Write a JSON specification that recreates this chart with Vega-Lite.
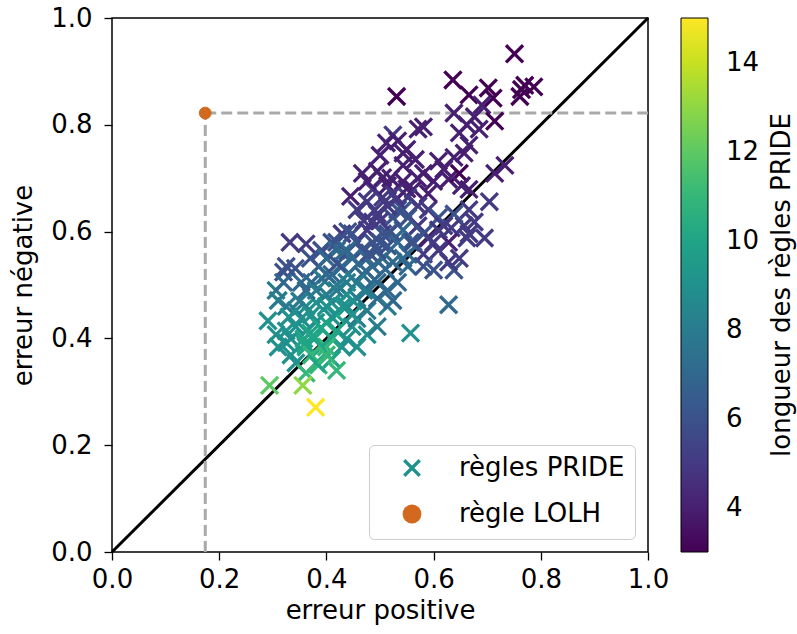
{
  "$schema": "https://vega.github.io/schema/vega-lite/v6.json",
  "width": 536,
  "height": 534,
  "autosize": {"type": "none"},
  "padding": {"left": 112, "top": 18, "right": 149, "bottom": 82},
  "config": {
    "font": "DejaVu Sans",
    "view": {"stroke": "black", "strokeWidth": 1.5},
    "axis": {
      "grid": false, "domain": false, "tickColor": "black", "tickSize": 8, "tickWidth": 1.3,
      "labelFontSize": 26, "titleFontSize": 26, "labelColor": "black", "titleColor": "black", "labelFlush": false,
      "titleFontWeight": "normal", "labelFont": "DejaVu Sans", "titleFont": "DejaVu Sans"
    },
    "legend": {"labelFont": "DejaVu Sans", "titleFont": "DejaVu Sans"}
  },
  "layer": [
    {
      "data": {"values": [{"x": 0, "y": 0}, {"x": 1, "y": 1}]},
      "mark": {"type": "line", "color": "black", "strokeWidth": 3},
      "encoding": {
        "x": {"field": "x", "type": "quantitative", "scale": {"domain": [0, 1], "nice": false},
              "axis": {"values": [0, 0.2, 0.4, 0.6, 0.8, 1.0], "format": ".1f", "title": "erreur positive", "labelPadding": 6, "titlePadding": 5, "labelFontSize": 26, "titleFontSize": 26, "labelFlush": false}},
        "y": {"field": "y", "type": "quantitative", "scale": {"domain": [0, 1], "nice": false},
              "axis": {"values": [0, 0.2, 0.4, 0.6, 0.8, 1.0], "format": ".1f", "title": "erreur négative", "labelPadding": 12, "titlePadding": 14, "labelFontSize": 26, "titleFontSize": 26, "labelFlush": false}}
      }
    },
    {
      "data": {"values": [{"x": 0.174, "y": 0, "x2": 0.174, "y2": 0.822}, {"x": 0.174, "y": 0.822, "x2": 1, "y2": 0.822}]},
      "mark": {"type": "rule", "color": "#a9a9a9", "strokeWidth": 3, "strokeDash": [11, 5]},
      "encoding": {
        "x": {"field": "x", "type": "quantitative"},
        "y": {"field": "y", "type": "quantitative"},
        "x2": {"field": "x2"},
        "y2": {"field": "y2"}
      }
    },
    {
      "data": {"values": [
        {"x":0.751,"y":0.933,"l":3},{"x":0.531,"y":0.853,"l":3},{"x":0.636,"y":0.884,"l":3},{"x":0.666,"y":0.856,"l":3},
        {"x":0.702,"y":0.869,"l":3},{"x":0.711,"y":0.850,"l":3},{"x":0.761,"y":0.853,"l":3},{"x":0.770,"y":0.874,"l":3},
        {"x":0.787,"y":0.871,"l":3},{"x":0.764,"y":0.866,"l":3},{"x":0.690,"y":0.837,"l":4},{"x":0.714,"y":0.807,"l":3},
        {"x":0.638,"y":0.822,"l":4},{"x":0.676,"y":0.815,"l":4},{"x":0.662,"y":0.800,"l":4},{"x":0.648,"y":0.785,"l":4},
        {"x":0.685,"y":0.792,"l":4},{"x":0.666,"y":0.762,"l":4},{"x":0.571,"y":0.792,"l":4},{"x":0.581,"y":0.796,"l":4},
        {"x":0.524,"y":0.781,"l":5},{"x":0.533,"y":0.770,"l":4},{"x":0.512,"y":0.766,"l":4},{"x":0.550,"y":0.754,"l":4},
        {"x":0.500,"y":0.743,"l":4},{"x":0.495,"y":0.713,"l":4},{"x":0.566,"y":0.735,"l":4},{"x":0.543,"y":0.724,"l":4},
        {"x":0.581,"y":0.709,"l":4},{"x":0.609,"y":0.732,"l":4},{"x":0.619,"y":0.717,"l":4},{"x":0.628,"y":0.698,"l":4},
        {"x":0.648,"y":0.709,"l":3},{"x":0.652,"y":0.686,"l":4},{"x":0.638,"y":0.739,"l":4},{"x":0.657,"y":0.747,"l":4},
        {"x":0.714,"y":0.709,"l":4},{"x":0.733,"y":0.724,"l":4},{"x":0.704,"y":0.656,"l":5},{"x":0.666,"y":0.679,"l":4},
        {"x":0.666,"y":0.641,"l":5},{"x":0.666,"y":0.596,"l":5},{"x":0.657,"y":0.611,"l":5},{"x":0.638,"y":0.633,"l":6},
        {"x":0.633,"y":0.607,"l":5},{"x":0.628,"y":0.580,"l":4},{"x":0.638,"y":0.528,"l":6},{"x":0.628,"y":0.463,"l":7},
        {"x":0.600,"y":0.528,"l":6},{"x":0.609,"y":0.565,"l":5},{"x":0.590,"y":0.588,"l":4},{"x":0.581,"y":0.558,"l":5},
        {"x":0.557,"y":0.410,"l":9},{"x":0.533,"y":0.505,"l":7},{"x":0.552,"y":0.535,"l":7},{"x":0.557,"y":0.580,"l":6},
        {"x":0.543,"y":0.603,"l":7},{"x":0.524,"y":0.626,"l":6},{"x":0.533,"y":0.641,"l":6},{"x":0.514,"y":0.648,"l":5},
        {"x":0.505,"y":0.664,"l":5},{"x":0.486,"y":0.679,"l":5},{"x":0.476,"y":0.656,"l":5},{"x":0.495,"y":0.633,"l":5},
        {"x":0.486,"y":0.618,"l":5},{"x":0.445,"y":0.666,"l":4},{"x":0.457,"y":0.641,"l":5},{"x":0.429,"y":0.596,"l":5},
        {"x":0.410,"y":0.580,"l":6},{"x":0.391,"y":0.565,"l":6},{"x":0.362,"y":0.577,"l":5},{"x":0.332,"y":0.580,"l":5},
        {"x":0.370,"y":0.550,"l":6},{"x":0.386,"y":0.535,"l":6},{"x":0.320,"y":0.524,"l":6},{"x":0.342,"y":0.531,"l":6},
        {"x":0.306,"y":0.490,"l":8},{"x":0.310,"y":0.471,"l":8},{"x":0.325,"y":0.460,"l":8},{"x":0.291,"y":0.433,"l":9},
        {"x":0.306,"y":0.407,"l":9},{"x":0.310,"y":0.384,"l":9},{"x":0.334,"y":0.369,"l":9},{"x":0.343,"y":0.354,"l":9},
        {"x":0.400,"y":0.429,"l":10},{"x":0.419,"y":0.414,"l":10},{"x":0.438,"y":0.399,"l":9},{"x":0.429,"y":0.384,"l":9},
        {"x":0.448,"y":0.422,"l":9},{"x":0.457,"y":0.437,"l":8},{"x":0.476,"y":0.452,"l":8},{"x":0.495,"y":0.475,"l":7},
        {"x":0.514,"y":0.460,"l":8},{"x":0.524,"y":0.471,"l":7},{"x":0.514,"y":0.490,"l":7},{"x":0.495,"y":0.505,"l":7},
        {"x":0.476,"y":0.490,"l":8},{"x":0.457,"y":0.475,"l":8},{"x":0.438,"y":0.460,"l":9},{"x":0.419,"y":0.444,"l":10},
        {"x":0.410,"y":0.467,"l":9},{"x":0.400,"y":0.482,"l":8},{"x":0.381,"y":0.467,"l":9},{"x":0.362,"y":0.460,"l":9},
        {"x":0.372,"y":0.505,"l":7},{"x":0.391,"y":0.513,"l":8},{"x":0.410,"y":0.520,"l":7},{"x":0.429,"y":0.535,"l":7},
        {"x":0.448,"y":0.550,"l":7},{"x":0.467,"y":0.565,"l":6},{"x":0.457,"y":0.580,"l":6},{"x":0.448,"y":0.596,"l":6},
        {"x":0.419,"y":0.565,"l":7},{"x":0.438,"y":0.505,"l":8},{"x":0.467,"y":0.520,"l":7},{"x":0.486,"y":0.535,"l":7},
        {"x":0.505,"y":0.550,"l":7},{"x":0.514,"y":0.573,"l":6},{"x":0.486,"y":0.580,"l":6},{"x":0.476,"y":0.603,"l":5},
        {"x":0.514,"y":0.596,"l":6},{"x":0.533,"y":0.580,"l":7},{"x":0.552,"y":0.558,"l":7},{"x":0.571,"y":0.611,"l":5},
        {"x":0.581,"y":0.535,"l":6},{"x":0.590,"y":0.641,"l":5},{"x":0.609,"y":0.626,"l":6},{"x":0.619,"y":0.611,"l":5},
        {"x":0.648,"y":0.550,"l":5},{"x":0.662,"y":0.588,"l":5},{"x":0.590,"y":0.671,"l":4},{"x":0.562,"y":0.679,"l":4},
        {"x":0.543,"y":0.694,"l":4},{"x":0.514,"y":0.686,"l":4},{"x":0.524,"y":0.671,"l":5},{"x":0.552,"y":0.664,"l":5},
        {"x":0.571,"y":0.648,"l":5},{"x":0.600,"y":0.694,"l":4},{"x":0.505,"y":0.701,"l":4},{"x":0.467,"y":0.709,"l":4},
        {"x":0.476,"y":0.694,"l":4},{"x":0.543,"y":0.747,"l":4},{"x":0.334,"y":0.399,"l":9},{"x":0.325,"y":0.414,"l":9},
        {"x":0.343,"y":0.422,"l":9},{"x":0.410,"y":0.399,"l":10},{"x":0.400,"y":0.384,"l":11},{"x":0.457,"y":0.384,"l":9},
        {"x":0.476,"y":0.407,"l":9},{"x":0.495,"y":0.422,"l":8},{"x":0.448,"y":0.444,"l":9},{"x":0.362,"y":0.384,"l":10},
        {"x":0.343,"y":0.452,"l":8},{"x":0.362,"y":0.490,"l":7},{"x":0.381,"y":0.490,"l":8},{"x":0.419,"y":0.490,"l":8},
        {"x":0.438,"y":0.482,"l":9},{"x":0.457,"y":0.505,"l":8},{"x":0.400,"y":0.550,"l":7},{"x":0.419,"y":0.580,"l":6},
        {"x":0.438,"y":0.565,"l":7},{"x":0.476,"y":0.550,"l":7},{"x":0.495,"y":0.565,"l":6},{"x":0.524,"y":0.543,"l":7},
        {"x":0.543,"y":0.550,"l":7},{"x":0.562,"y":0.580,"l":6},{"x":0.581,"y":0.596,"l":6},{"x":0.600,"y":0.580,"l":5},
        {"x":0.609,"y":0.603,"l":5},{"x":0.628,"y":0.543,"l":5},{"x":0.676,"y":0.618,"l":5},{"x":0.695,"y":0.588,"l":5},
        {"x":0.552,"y":0.626,"l":6},{"x":0.543,"y":0.641,"l":6},{"x":0.505,"y":0.596,"l":6},{"x":0.320,"y":0.505,"l":7},
        {"x":0.353,"y":0.505,"l":7},{"x":0.325,"y":0.535,"l":6},
        {"x":0.42,"y":0.50,"l":8},{"x":0.44,"y":0.52,"l":8},{"x":0.46,"y":0.54,"l":7},{"x":0.48,"y":0.56,"l":6},
        {"x":0.50,"y":0.58,"l":6},{"x":0.52,"y":0.60,"l":6},{"x":0.45,"y":0.47,"l":9},{"x":0.47,"y":0.49,"l":8},
        {"x":0.49,"y":0.51,"l":7},{"x":0.51,"y":0.53,"l":7},{"x":0.50,"y":0.62,"l":5},{"x":0.53,"y":0.66,"l":5},
        {"x":0.55,"y":0.68,"l":4},{"x":0.57,"y":0.70,"l":4},{"x":0.52,"y":0.70,"l":4},{"x":0.49,"y":0.64,"l":5},
        {"x":0.47,"y":0.62,"l":5},{"x":0.44,"y":0.60,"l":6},{"x":0.43,"y":0.56,"l":7},{"x":0.40,"y":0.52,"l":7},
        {"x":0.42,"y":0.54,"l":6},{"x":0.35,"y":0.47,"l":8},{"x":0.33,"y":0.44,"l":9},
        {"x":0.40,"y":0.46,"l":9},{"x":0.41,"y":0.44,"l":9},{"x":0.43,"y":0.46,"l":9},{"x":0.38,"y":0.43,"l":9},
        {"x":0.353,"y":0.437,"l":9},{"x":0.372,"y":0.444,"l":9},{"x":0.362,"y":0.414,"l":9},{"x":0.377,"y":0.399,"l":10},
        {"x":0.391,"y":0.384,"l":10},{"x":0.37,"y":0.41,"l":10},{"x":0.36,"y":0.39,"l":10},{"x":0.39,"y":0.42,"l":10},
        {"x":0.358,"y":0.399,"l":10},{"x":0.325,"y":0.392,"l":9},{"x":0.372,"y":0.369,"l":11},{"x":0.385,"y":0.350,"l":11},
        {"x":0.410,"y":0.361,"l":10},{"x":0.381,"y":0.354,"l":10},{"x":0.400,"y":0.369,"l":11},{"x":0.362,"y":0.335,"l":11},
        {"x":0.419,"y":0.340,"l":11},{"x":0.294,"y":0.312,"l":12},{"x":0.356,"y":0.312,"l":13},{"x":0.380,"y":0.271,"l":15}
      ]},
      "mark": {"type": "point", "filled": false, "strokeWidth": 3.3, "size": 290, "opacity": 1},
      "encoding": {
        "x": {"field": "x", "type": "quantitative"},
        "y": {"field": "y", "type": "quantitative"},
        "color": {
          "field": "l", "type": "quantitative",
          "scale": {"scheme": "viridis", "domain": [3, 15], "nice": false, "zero": false},
          "legend": {
            "title": "longueur des règles PRIDE", "orient": "right", "offset": 33, "padding": 0,
            "direction": "vertical", "gradientLength": 534, "gradientThickness": 27,
            "gradientStrokeColor": "black", "gradientStrokeWidth": 1,
            "values": [4, 6, 8, 10, 12, 14], "labelOverlap": false,
            "labelFontSize": 26, "labelColor": "black", "labelOffset": 18,
            "titleFontSize": 26, "titleFontWeight": "normal", "titleColor": "black", "titleLimit": 700,
            "titleOrient": "right", "titleAnchor": "middle", "titlePadding": 10,
            "encoding": {"title": {"angle": {"value": -90}, "baseline": {"value": "top"}}}
          }
        },
        "shape": {
          "datum": "règles PRIDE", "type": "nominal",
          "scale": {"domain": ["règles PRIDE", "règle LOLH"], "range": ["M-1,-1L1,1M-1,1L1,-1", "circle"]},
          "legend": {
            "title": null, "orient": "bottom-right", "offset": 13, "padding": 10,
            "fillColor": "white", "strokeColor": "#cccccc", "cornerRadius": 5,
            "labelFontSize": 26, "labelColor": "black", "labelOffset": 34, "symbolOffset": 20, "labelLimit": 400,
            "symbolSize": 240, "symbolStrokeWidth": 3.3, "rowPadding": 16
          }
        }
      }
    },
    {
      "data": {"values": [{"x": 0.174, "y": 0.822}]},
      "mark": {"type": "point", "filled": true, "size": 140, "strokeWidth": 1, "opacity": 1},
      "encoding": {
        "x": {"field": "x", "type": "quantitative"},
        "y": {"field": "y", "type": "quantitative"},
        "fill": {
          "datum": "règle LOLH", "type": "nominal",
          "scale": {"domain": ["règles PRIDE", "règle LOLH"], "range": ["transparent", "#d2691e"]},
          "legend": {
            "title": null, "orient": "bottom-right", "offset": 13, "padding": 10,
            "fillColor": "white", "strokeColor": "#cccccc", "cornerRadius": 5,
            "labelFontSize": 26, "labelColor": "black", "labelOffset": 34, "symbolOffset": 20, "labelLimit": 400,
            "symbolSize": 240, "symbolStrokeWidth": 3.3, "rowPadding": 16
          }
        },
        "stroke": {
          "datum": "règle LOLH", "type": "nominal",
          "scale": {"domain": ["règles PRIDE", "règle LOLH"], "range": ["#21918c", "#d2691e"]},
          "legend": {
            "title": null, "orient": "bottom-right", "offset": 13, "padding": 10,
            "fillColor": "white", "strokeColor": "#cccccc", "cornerRadius": 5,
            "labelFontSize": 26, "labelColor": "black", "labelOffset": 34, "symbolOffset": 20, "labelLimit": 400,
            "symbolSize": 240, "symbolStrokeWidth": 3.3, "rowPadding": 16
          }
        },
        "shape": {"datum": "règle LOLH", "type": "nominal"}
      }
    }
  ]
}
